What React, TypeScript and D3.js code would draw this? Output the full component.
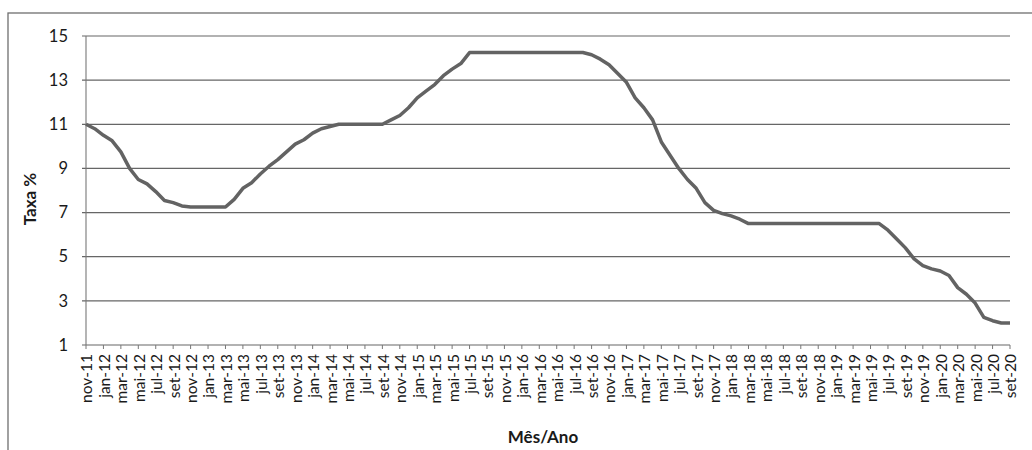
import React from "react";
import * as d3 from "d3";

const months: string[] = [
  "nov-11","dez-11","jan-12","fev-12","mar-12","abr-12","mai-12","jun-12","jul-12","ago-12","set-12","out-12",
  "nov-12","dez-12","jan-13","fev-13","mar-13","abr-13","mai-13","jun-13","jul-13","ago-13","set-13","out-13",
  "nov-13","dez-13","jan-14","fev-14","mar-14","abr-14","mai-14","jun-14","jul-14","ago-14","set-14","out-14",
  "nov-14","dez-14","jan-15","fev-15","mar-15","abr-15","mai-15","jun-15","jul-15","ago-15","set-15","out-15",
  "nov-15","dez-15","jan-16","fev-16","mar-16","abr-16","mai-16","jun-16","jul-16","ago-16","set-16","out-16",
  "nov-16","dez-16","jan-17","fev-17","mar-17","abr-17","mai-17","jun-17","jul-17","ago-17","set-17","out-17",
  "nov-17","dez-17","jan-18","fev-18","mar-18","abr-18","mai-18","jun-18","jul-18","ago-18","set-18","out-18",
  "nov-18","dez-18","jan-19","fev-19","mar-19","abr-19","mai-19","jun-19","jul-19","ago-19","set-19","out-19",
  "nov-19","dez-19","jan-20","fev-20","mar-20","abr-20","mai-20","jun-20","jul-20","ago-20","set-20",
];

const taxa: number[] = [
  11.0, 10.8, 10.5, 10.25, 9.75, 9.0, 8.5, 8.3, 7.95, 7.55, 7.45, 7.3,
  7.25, 7.25, 7.25, 7.25, 7.25, 7.6, 8.1, 8.35, 8.75, 9.1, 9.4, 9.75,
  10.1, 10.3, 10.6, 10.8, 10.9, 11.0, 11.0, 11.0, 11.0, 11.0, 11.0, 11.2,
  11.4, 11.75, 12.2, 12.5, 12.8, 13.2, 13.5, 13.75, 14.25, 14.25, 14.25, 14.25,
  14.25, 14.25, 14.25, 14.25, 14.25, 14.25, 14.25, 14.25, 14.25, 14.25, 14.15, 13.95,
  13.7, 13.3, 12.9, 12.2, 11.75, 11.2, 10.2, 9.6, 9.0, 8.5, 8.1, 7.45,
  7.1, 6.95, 6.85, 6.7, 6.5, 6.5, 6.5, 6.5, 6.5, 6.5, 6.5, 6.5,
  6.5, 6.5, 6.5, 6.5, 6.5, 6.5, 6.5, 6.5, 6.2, 5.8, 5.4, 4.9,
  4.6, 4.45, 4.35, 4.15, 3.6, 3.3, 2.9, 2.25, 2.1, 2.0, 2.0,
];

const xTickLabels: string[] = months.filter((_, i) => i % 2 === 0);
const yTicks: number[] = [1, 3, 5, 7, 9, 11, 13, 15];

const W = 1032;
const H = 450;
const plot = { left: 86, right: 1010, top: 36, bottom: 345 };
const FONT = "Lato, 'Liberation Sans', sans-serif";

export default function App() {
  const x = d3.scalePoint<string>().domain(months).range([plot.left, plot.right]);
  const y = d3.scaleLinear().domain([1, 15]).range([plot.bottom, plot.top]);
  const line = d3
    .line<number>()
    .x((_, i) => x(months[i]) as number)
    .y((d) => y(d));

  return (
    <svg
      width={W}
      height={H}
      style={{ position: "absolute", left: 0, top: 0, background: "#fff" }}
    >
      <rect x={0} y={0} width={W} height={H} fill="#fff" />
      {/* chart border */}
      <rect x={8} y={13} width={W + 20} height={H + 20} fill="none" stroke="#6f6f6f" strokeWidth={1.3} />
      {/* gridlines */}
      {yTicks.map((t) => (
        <line
          key={"g" + t}
          x1={plot.left - 4}
          x2={plot.right}
          y1={y(t)}
          y2={y(t)}
          stroke="#666"
          strokeWidth={1.2}
        />
      ))}
      {/* y axis line */}
      <line x1={plot.left} x2={plot.left} y1={plot.top} y2={plot.bottom} stroke="#777" strokeWidth={1.1} />
      {/* y tick labels */}
      {yTicks.map((t) => (
        <text
          key={"yl" + t}
          x={68}
          y={y(t)}
          dy="0.35em"
          textAnchor="end"
          fontFamily={FONT}
          fontSize={16.5}
          fill="#1a1a1a"
        >
          {t}
        </text>
      ))}
      {/* x ticks and labels */}
      {xTickLabels.map((m) => {
        const px = x(m) as number;
        return (
          <g key={"x" + m}>
            <line x1={px} x2={px} y1={plot.bottom} y2={plot.bottom + 4} stroke="#777" strokeWidth={1} />
            <text
              transform={`translate(${px + 1},${plot.bottom + 9}) rotate(-90)`}
              textAnchor="end"
              dy="0.35em"
              fontFamily={FONT}
              fontSize={15.5}
              fill="#1a1a1a"
            >
              {m}
            </text>
          </g>
        );
      })}
      {/* series line */}
      <path d={line(taxa) || ""} fill="none" stroke="#636363" strokeWidth={3.5} strokeLinejoin="round" />
      {/* axis titles */}
      <text
        transform={`translate(36,199) rotate(-90)`}
        textAnchor="middle"
        fontFamily={FONT}
        fontWeight="bold"
        fontSize={17}
        fill="#1a1a1a"
      >
        Taxa %
      </text>
      <text
        x={543}
        y={443}
        textAnchor="middle"
        fontFamily={FONT}
        fontWeight="bold"
        fontSize={17}
        fill="#1a1a1a"
      >
        Mês/Ano
      </text>
    </svg>
  );
}
